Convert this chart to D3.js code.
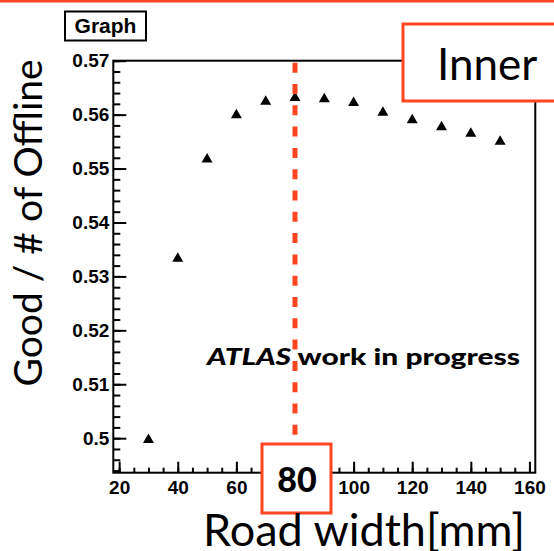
<!DOCTYPE html>
<html>
<head>
<meta charset="utf-8">
<script src="https://d3js.org/d3.v7.min.js"></script>
<style>
  body { margin: 0; background: #fff; }
  svg { display: block; }
</style>
</head>
<body>
<div id="canvas"></div>
<script>
  // data
  var roadWidth = [30, 40, 50, 60, 70, 80, 90, 100, 110, 120, 130, 140, 150];
  var goodFrac  = [0.4997, 0.5333, 0.5517, 0.5599, 0.5624, 0.5631, 0.5629, 0.5622, 0.5604, 0.5590, 0.5577, 0.5565, 0.5550];
  var xTicks = [20, 40, 60, 100, 120, 140, 160]; // 80 sits under the highlight box
  var yTicks = [0.5, 0.51, 0.52, 0.53, 0.54, 0.55, 0.56, 0.57];
  var chosenWidth = 80;

  var W = 554, H = 551;
  var orange = "#ff4620";
  // plot frame (pixels)
  var fLeft = 113.3, fRight = 535.3, fTop = 60.7, fBottom = 472.7;

  var svg = d3.select('#canvas')
    .append('svg')
      .attr('width', W)
      .attr('height', H);

  // orange bar on top of the slide
  svg.append("rect")
    .attr("x", 0).attr("y", 0)
    .attr("width", W).attr("height", 2.5)
    .attr("fill", orange);

  var x = d3.scaleLinear().domain([18, 162]).range([fLeft, fRight]);
  var y = d3.scaleLinear().domain([0.4936, 0.57]).range([fBottom, fTop]);

  // minor ticks
  var xMinor = d3.range(20, 161, 5);
  var yMinor = d3.range(0, 39).map(function(i) { return +(0.494 + i * 0.002).toFixed(3); });

  svg.append("g")
    .attr("transform", `translate(0,${fBottom})`)
    .call(d3.axisBottom(x).tickValues(xMinor).tickSize(-5).tickFormat(""))
    .call(function(g) { g.select(".domain").remove(); g.selectAll("line").attr("stroke-width", 2); });

  svg.append("g")
    .attr("transform", `translate(${fLeft},0)`)
    .call(d3.axisLeft(y).tickValues(yMinor).tickSize(-7).tickFormat(""))
    .call(function(g) { g.select(".domain").remove(); g.selectAll("line").attr("stroke-width", 2); });

  // major ticks + labels
  svg.append("g")
    .attr("transform", `translate(0,${fBottom})`)
    .call(d3.axisBottom(x).tickValues(xTicks).tickSize(-11).tickPadding(8).tickFormat(d3.format("d")))
    .call(function(g) {
      g.select(".domain").remove();
      g.selectAll("line").attr("stroke-width", 2);
      g.selectAll("text")
        .attr("fill", "#000")
        .style("font-family", "'Liberation Sans', Arial, sans-serif")
        .style("font-weight", "bold")
        .style("font-size", "19px");
    });

  svg.append("g")
    .attr("transform", `translate(${fLeft},0)`)
    .call(d3.axisLeft(y).tickValues(yTicks).tickSize(-13).tickPadding(4)
      .tickFormat(function(d) { return String(+d.toFixed(2)); }))
    .call(function(g) {
      g.select(".domain").remove();
      g.selectAll("line").attr("stroke-width", 2);
      g.selectAll("text")
        .attr("fill", "#000")
        .style("font-family", "'Liberation Sans', Arial, sans-serif")
        .style("font-weight", "bold")
        .style("font-size", "19px");
    });

  // frame
  svg.append("rect")
    .attr("x", fLeft).attr("y", fTop)
    .attr("width", fRight - fLeft).attr("height", fBottom - fTop)
    .attr("fill", "none")
    .attr("stroke", "#000")
    .attr("stroke-width", 2);

  // triangles
  svg.append("g")
    .selectAll("path")
    .data(roadWidth)
    .enter()
    .append("path")
      .attr("d", d3.symbol().type(d3.symbolTriangle).size(52))
      .attr("transform", function(d, i) { return `translate(${x(d)},${y(goodFrac[i])})`; })
      .attr("fill", "#000");

  // "Graph" title box
  svg.append("rect")
    .attr("x", 65).attr("y", 11.5)
    .attr("width", 81).attr("height", 29)
    .attr("fill", "#fff")
    .attr("stroke", "#000")
    .attr("stroke-width", 2);
  svg.append("text")
    .text("Graph")
    .attr("x", 105.5).attr("y", 33)
    .attr("text-anchor", "middle")
    .style("font-family", "'Liberation Sans', Arial, sans-serif")
    .style("font-weight", "bold")
    .style("font-size", "21px");

  // dashed marker line
  svg.append("line")
    .attr("x1", x(chosenWidth)).attr("x2", x(chosenWidth))
    .attr("y1", fTop + 2).attr("y2", 440)
    .attr("stroke", orange)
    .attr("stroke-width", 5)
    .attr("stroke-dasharray", "10,11.3");

  // ATLAS label
  var atlas = svg.append("text")
    .attr("x", 207).attr("y", 365)
    .attr("textLength", 313)
    .attr("lengthAdjust", "spacingAndGlyphs")
    .style("font-family", "Lato, sans-serif")
    .style("font-weight", "900")
    .style("font-size", "23px");
  atlas.append("tspan").text("ATLAS").style("font-style", "italic");
  atlas.append("tspan").text(" work in progress");

  // "Inner" box
  svg.append("rect")
    .attr("x", 403).attr("y", 24)
    .attr("width", 170).attr("height", 77)
    .attr("fill", "#fff")
    .attr("stroke", orange)
    .attr("stroke-width", 3);
  svg.append("text")
    .text("Inner")
    .attr("x", 437).attr("y", 80)
    .style("font-family", "Lato, sans-serif")
    .style("font-size", "44px");

  // "80" box
  svg.append("rect")
    .attr("x", x(chosenWidth) - 33).attr("y", 444)
    .attr("width", 69).attr("height", 69)
    .attr("fill", "#fff")
    .attr("stroke", orange)
    .attr("stroke-width", 3);
  svg.append("text")
    .text(chosenWidth)
    .attr("x", x(chosenWidth) + 2).attr("y", 492)
    .attr("text-anchor", "middle")
    .style("font-family", "Lato, sans-serif")
    .style("font-weight", "900")
    .style("font-size", "34px");

  // axis titles
  svg.append("text")
    .text("Road width[mm]")
    .attr("x", 525).attr("y", 546)
    .attr("text-anchor", "end")
    .style("font-family", "Lato, sans-serif")
    .style("font-size", "45px");

  svg.append("text")
    .text("Good / # of Offline")
    .attr("text-anchor", "middle")
    .attr("transform", "translate(42,223) rotate(-90)")
    .style("font-family", "Lato, sans-serif")
    .style("font-size", "39px");
</script>
</body>
</html>
